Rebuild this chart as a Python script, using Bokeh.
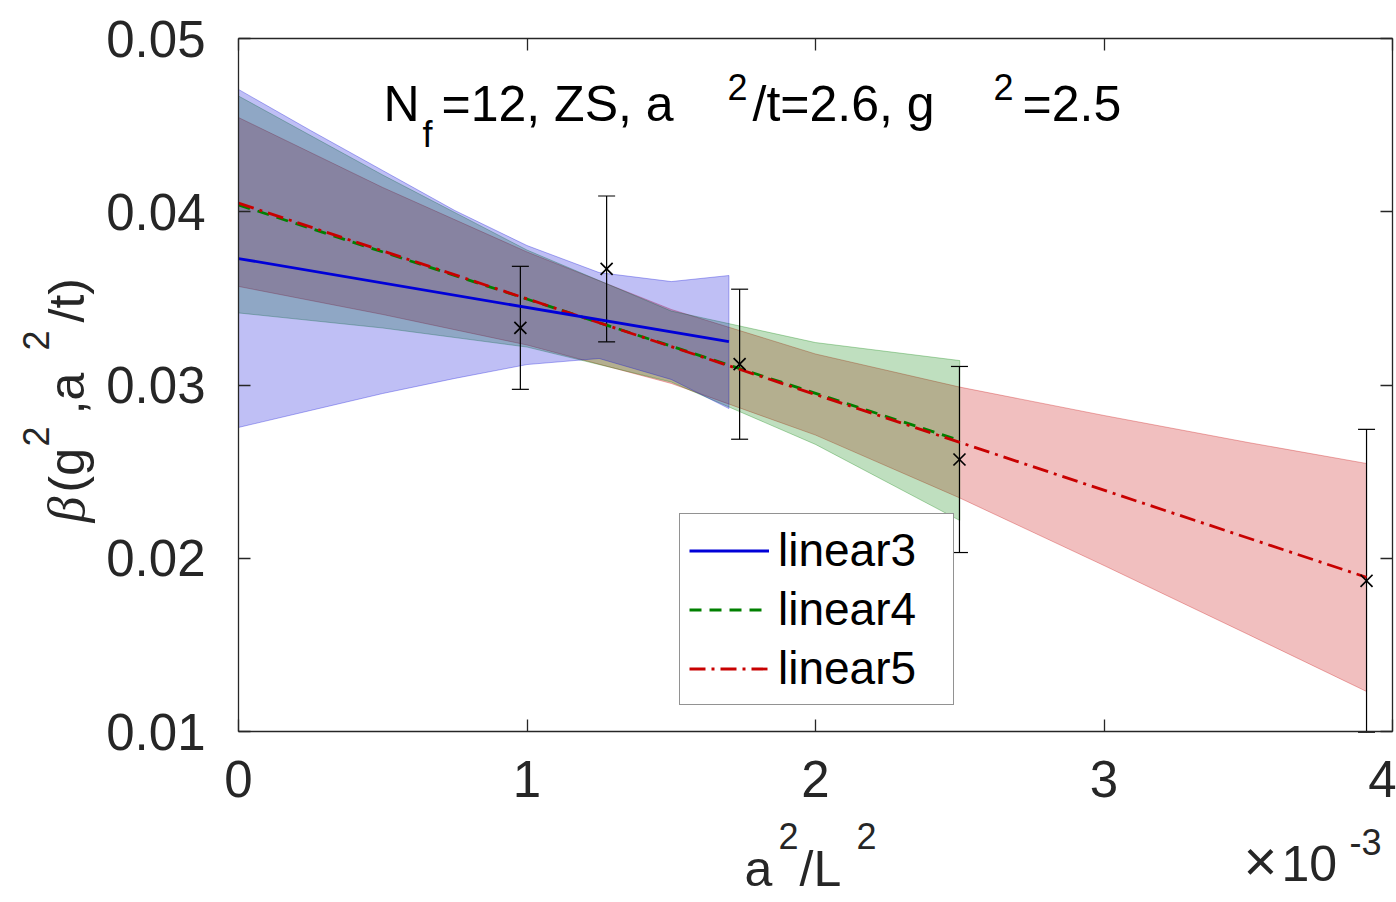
import math
from bokeh.plotting import figure
from bokeh.models import LinearAxis, Label, FixedTicker, PrintfTickFormatter, Range1d
from bokeh.embed import file_html
from bokeh.resources import INLINE

# ---------------- data (x in units of 1e-3) ----------------
pt_x = [0.977, 1.276, 1.737, 2.499, 3.91]
pt_y = [0.0333, 0.0367, 0.0312, 0.0257, 0.0187]
pt_err = [0.00355, 0.00421, 0.00433, 0.00537, 0.00874]

fit3_x = [0.0, 1.7]
fit3_y = [0.0373, 0.0325]
fit4_x = [0.0, 2.5]
fit4_y = [0.0404, 0.0268]
fit5_x = [0.0, 3.91]
fit5_y = [0.0405, 0.0189]

band3_x = [0.0, 0.25, 0.5, 0.75, 1.0, 1.25, 1.5, 1.7]
band3_hi = [0.04706, 0.04469, 0.04238, 0.04007, 0.03805, 0.03649, 0.03597, 0.03632]
band3_lo = [0.02755, 0.02853, 0.02951, 0.03038, 0.03118, 0.03153, 0.03032, 0.02864]

band4_x = [0.0, 0.5, 1.0, 1.5, 2.0, 2.5]
band4_hi = [0.04668, 0.04212, 0.03779, 0.03427, 0.03245, 0.03141]
band4_lo = [0.03416, 0.03329, 0.03219, 0.03017, 0.02657, 0.02218]

band5_x = [0.0, 0.5, 1.0, 1.5, 2.0, 2.5, 3.0, 3.5, 3.91]
band5_hi = [0.04544, 0.0414, 0.03768, 0.03436, 0.03179, 0.02988, 0.02824, 0.02668, 0.02547]
band5_lo = [0.03569, 0.03407, 0.03231, 0.03009, 0.02711, 0.02348, 0.01958, 0.0156, 0.01231]

x_ticks = [0, 1, 2, 3, 4]
y_ticks = [0.01, 0.02, 0.03, 0.04, 0.05]
legend_names = ["linear3", "linear4", "linear5"]

# ---------------- styling ----------------
FONT = "Liberation Sans"
AX = "#262626"
C_BLUE = "#0000D8"
C_GREEN = "#008000"
C_RED = "#C80000"

W, H = 1396, 902
X0, X1 = 0.0, 4.0
Y0, Y1 = 0.01, 0.05
FL, FR, FT, FB = 238, 1392, 38, 731  # axes box in pixels


def X(px):
    return X0 + (px - FL) * (X1 - X0) / (FR - FL)


def Y(py):
    return Y1 - (py - FT) * (Y1 - Y0) / (FB - FT)


# the plotting frame covers the whole canvas; axes are pinned at the box edges
p = figure(width=W, height=H, x_range=Range1d(X(0), X(W)), y_range=Range1d(Y(H), Y(0)),
           output_backend="svg", toolbar_location=None,
           x_axis_location=None, y_axis_location=None, min_border=0)
p.background_fill_color = "white"
p.border_fill_color = "white"
p.outline_line_color = None
p.xgrid.visible = False
p.ygrid.visible = False


def make_axis(ticker, loc, bounds, labels=True, standoff=30):
    ax = LinearAxis(ticker=FixedTicker(ticks=ticker), fixed_location=loc, bounds=bounds,
                    major_tick_in=12, major_tick_out=0, minor_tick_line_color=None,
                    axis_line_color=AX, axis_line_width=1.3,
                    major_tick_line_color=AX, major_tick_line_width=1.3,
                    major_label_text_font=FONT, major_label_text_font_size="51px",
                    major_label_standoff=standoff)
    ax.major_label_text_color = AX if labels else None
    return ax


xb = make_axis(x_ticks, Y0, (X0, X1), True, 29)
yl = make_axis(y_ticks, X0, (Y0, Y1), True, 33)
yl.formatter = PrintfTickFormatter(format="%.2f")
xt = make_axis(x_ticks, Y1, (X0, X1), False, 0)
yr = make_axis(y_ticks, X1, (Y0, Y1), False, 0)
p.add_layout(xb, "below")
p.add_layout(yl, "left")
p.add_layout(xt, "above")
p.add_layout(yr, "right")

# ---------------- bands ----------------
def band(xs, hi, lo, color):
    px = list(xs) + list(reversed(xs))
    py = list(hi) + list(reversed(lo))
    p.patch(px, py, fill_color=color, fill_alpha=0.25, line_color=color, line_alpha=0.3, line_width=1)


band(band5_x, band5_hi, band5_lo, C_RED)
band(band4_x, band4_hi, band4_lo, C_GREEN)
band(band3_x, band3_hi, band3_lo, C_BLUE)

# ---------------- error bars ----------------
err_lo = [y - e for y, e in zip(pt_y, pt_err)]
err_hi = [y + e for y, e in zip(pt_y, pt_err)]
p.segment(pt_x, err_lo, pt_x, err_hi, line_color="black", line_width=1.2)
p.scatter(pt_x, err_lo, marker="dash", size=17, line_color="black", line_width=1.2)
p.scatter(pt_x, err_hi, marker="dash", size=17, line_color="black", line_width=1.2)

# ---------------- fit lines ----------------
p.line(fit4_x, fit4_y, line_color=C_GREEN, line_width=2.8, line_dash="12 8", legend_label=legend_names[1])
p.line(fit5_x, fit5_y, line_color=C_RED, line_width=2.8, line_dash="16 6 3 6", legend_label=legend_names[2])
p.line(fit3_x, fit3_y, line_color=C_BLUE, line_width=2.8, legend_label=legend_names[0])

p.scatter(pt_x, pt_y, marker="x", size=17, line_color="black", line_width=1.7)

# legend
items = p.legend[0].items
order = {n: i for i, n in enumerate(legend_names)}
p.legend[0].items = sorted(items, key=lambda it: order[it.label.value])
lg = p.legend[0]
lg.location = (679, H - 705)
lg.label_text_font = FONT
lg.label_text_font_size = "46px"
lg.label_text_color = "black"
lg.glyph_width = 80
lg.glyph_height = 45
lg.label_standoff = 9
lg.label_width = 166
lg.spacing = 5
lg.padding = 9
lg.margin = 0
lg.border_line_color = AX
lg.border_line_width = 1.2
lg.background_fill_color = "white"
lg.background_fill_alpha = 1.0


# ---------------- texts ----------------
# (px, py) is the wanted baseline start; Bokeh draws the alphabetic baseline ~0.35em lower,
# so the anchor is moved back by that amount along the text's "down" direction.
def txt(s, px, py, size=48, color="black", angle=0.0, font=FONT, style="normal"):
    d = 0.35 * size
    if angle:
        ax_, ay_ = px - d, py
    else:
        ax_, ay_ = px, py - d
    p.add_layout(Label(x=X(ax_), y=Y(ay_), text=s, text_font=font, text_font_size=f"{size}px",
                       text_color=color, text_align="left", text_baseline="alphabetic",
                       angle=angle, text_font_style=style))


# title inside the axes
txt("N", 383, 121, 50)
txt("f", 422, 147, 36)
txt("=12, ZS, a", 441, 121, 50)
txt("2", 727, 99, 36)
txt("/t=2.6, g", 752, 121, 50)
txt("2", 993, 99, 36)
txt("=2.5", 1022, 121, 50)

# x label
txt("a", 744, 886, 50, AX)
txt("2", 778, 848, 36, AX)
txt("/L", 799, 886, 50, AX)
txt("2", 856, 848, 36, AX)
# multiplier
txt("\u00d7", 1243, 880, 58, AX)
txt("10", 1281, 880, 50, AX)
txt("-3", 1349, 854, 36, AX)

# y label (rotated)
A = math.pi / 2
txt("\u03b2", 84, 522, 52, AX, A, "Liberation Serif", "italic")
txt("(g", 84, 492, 50, AX, A)
txt("2", 48, 446, 36, AX, A)
txt(",a", 84, 414, 50, AX, A)
txt("2", 48, 350, 36, AX, A)
txt("/t)", 84, 322, 50, AX, A)

open("out.html", "w").write(file_html(p, INLINE))
